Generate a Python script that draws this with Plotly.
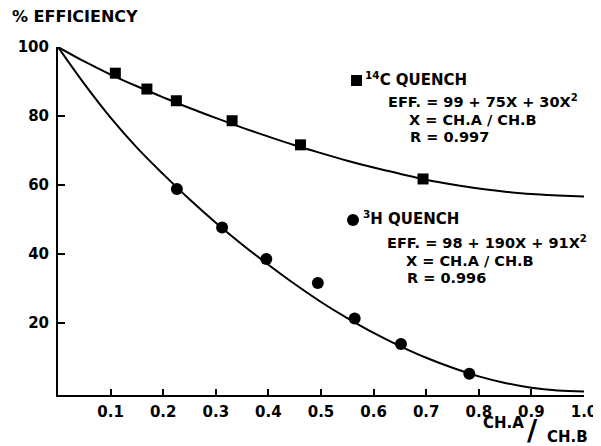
import plotly.graph_objects as go

# ---- data ----
c14_ratio = [0.109, 0.169, 0.225, 0.331, 0.461, 0.694]
c14_eff = [92.4, 87.8, 84.4, 78.6, 71.6, 61.7]
h3_ratio = [0.226, 0.312, 0.396, 0.494, 0.564, 0.652, 0.782]
h3_eff = [58.8, 47.6, 38.5, 31.5, 21.2, 13.8, 5.2]
# fitted curves as drawn in the reference (read at each 0.05 of CH.A/CH.B)
fit_ratio = [0.0, 0.05, 0.1, 0.15, 0.2, 0.25, 0.3, 0.35, 0.4, 0.45, 0.5,
             0.55, 0.6, 0.65, 0.7, 0.75, 0.8, 0.85, 0.9, 0.95, 1.0]
c14_fit_eff = [100, 95.8, 92.0, 88.6, 85.4, 82.3, 79.4, 76.6, 74.0, 71.5, 69.2,
               67.0, 65.0, 63.2, 61.5, 60.1, 58.9, 58.0, 57.3, 56.9, 56.6]
h3_fit_eff = [100, 89.3, 79.5, 70.8, 63.1, 55.8, 49.0, 42.7, 36.8, 31.2, 26.0,
              21.3, 17.0, 13.2, 9.8, 6.9, 4.4, 2.5, 1.1, 0.3, 0.0]
x_ticks = [0.1, 0.2, 0.3, 0.4, 0.5, 0.6, 0.7, 0.8, 0.9, 1.0]
x_tick_labels = ["0.1", "0.2", "0.3", "0.4", "0.5", "0.6", "0.7", "0.8", "0.9", "1.0"]
y_ticks = [20, 40, 60, 80, 100]
y_tick_labels = ["20", "40", "60", "80", "100"]

OFF = 8  # page body margin in the browser
W, H = 601 - OFF, 446 - OFF
# plot area in reference pixels: x 58..584, y 47..395
L, T = 58 - OFF, 47 - OFF
R = W - (584 - OFF)
B = H - (395 - OFF)
FONT = "DejaVu Sans"


def px(xp):
    return (xp - OFF - L) / (W - L - R)


def py(yp):
    return (H - B - (yp - OFF)) / (H - T - B)


fig = go.Figure()
fig.add_trace(go.Scatter(x=fit_ratio, y=c14_fit_eff, mode="lines",
                         line=dict(color="black", width=2, shape="spline", smoothing=1.0),
                         hoverinfo="skip"))
fig.add_trace(go.Scatter(x=fit_ratio, y=h3_fit_eff, mode="lines",
                         line=dict(color="black", width=2, shape="spline", smoothing=1.0),
                         hoverinfo="skip"))
fig.add_trace(go.Scatter(x=c14_ratio, y=c14_eff, mode="markers",
                         marker=dict(symbol="square", size=11, color="black"),
                         cliponaxis=False))
fig.add_trace(go.Scatter(x=h3_ratio, y=h3_eff, mode="markers",
                         marker=dict(symbol="circle", size=12, color="black"),
                         cliponaxis=False))

tick_font = dict(family=FONT, size=15, color="black", weight=700)

fig.update_xaxes(range=[0, 1.0], showgrid=False, zeroline=False, automargin=False,
                 showline=True, linecolor="black", linewidth=2,
                 ticks="inside", ticklen=6, tickwidth=1.5, tickcolor="black",
                 tickvals=x_ticks, ticktext=x_tick_labels, tickfont=tick_font,
                 ticklabelstandoff=2)
fig.update_yaxes(range=[-1, 100], showgrid=False, zeroline=False, automargin=False,
                 showline=True, linecolor="black", linewidth=2,
                 ticks="inside", ticklen=7, tickwidth=1.5, tickcolor="black",
                 tickvals=y_ticks, ticktext=y_tick_labels, tickfont=tick_font,
                 ticklabelstandoff=4)

annos = []


def add_text(text, xp, yp, size=15, xanchor="left"):
    annos.append(dict(text=text, xref="paper", yref="paper", x=px(xp), y=py(yp),
                      xanchor=xanchor, yanchor="middle", showarrow=False,
                      borderpad=0,
                      font=dict(family=FONT, size=size, color="black", weight=700)))


add_text("% EFFICIENCY", 11, 16, size=16)
add_text("<sup>14</sup>C QUENCH", 364, 79)
add_text("EFF. = 99 + 75X + 30X<sup>2</sup>", 387, 101, size=14.5)
add_text("X = CH.A / CH.B", 408, 120, size=14.5)
add_text("R = 0.997", 409, 137, size=14.5)
add_text("<sup>3</sup>H QUENCH", 362, 218)
add_text("EFF. = 98 + 190X + 91X<sup>2</sup>", 386, 242, size=14.5)
add_text("X = CH.A / CH.B", 405, 261, size=14.5)
add_text("R = 0.996", 406, 278, size=14.5)
add_text("CH.A", 482, 423)
add_text("/", 526, 430, size=28)
add_text("CH.B", 546, 437)

shapes = [
    dict(type="rect", xref="paper", yref="paper",
         x0=px(351), x1=px(362), y0=py(86), y1=py(75),
         fillcolor="black", line=dict(width=0)),
    dict(type="circle", xref="paper", yref="paper",
         x0=px(347), x1=px(359), y0=py(226), y1=py(214),
         fillcolor="black", line=dict(width=0)),
]

fig.update_layout(width=W, height=H, margin=dict(l=L, r=R, t=T, b=B, autoexpand=False),
                  paper_bgcolor="white", plot_bgcolor="white",
                  showlegend=False, annotations=annos, shapes=shapes,
                  font=dict(family=FONT, color="black"))

fig.write_html("out.html")
